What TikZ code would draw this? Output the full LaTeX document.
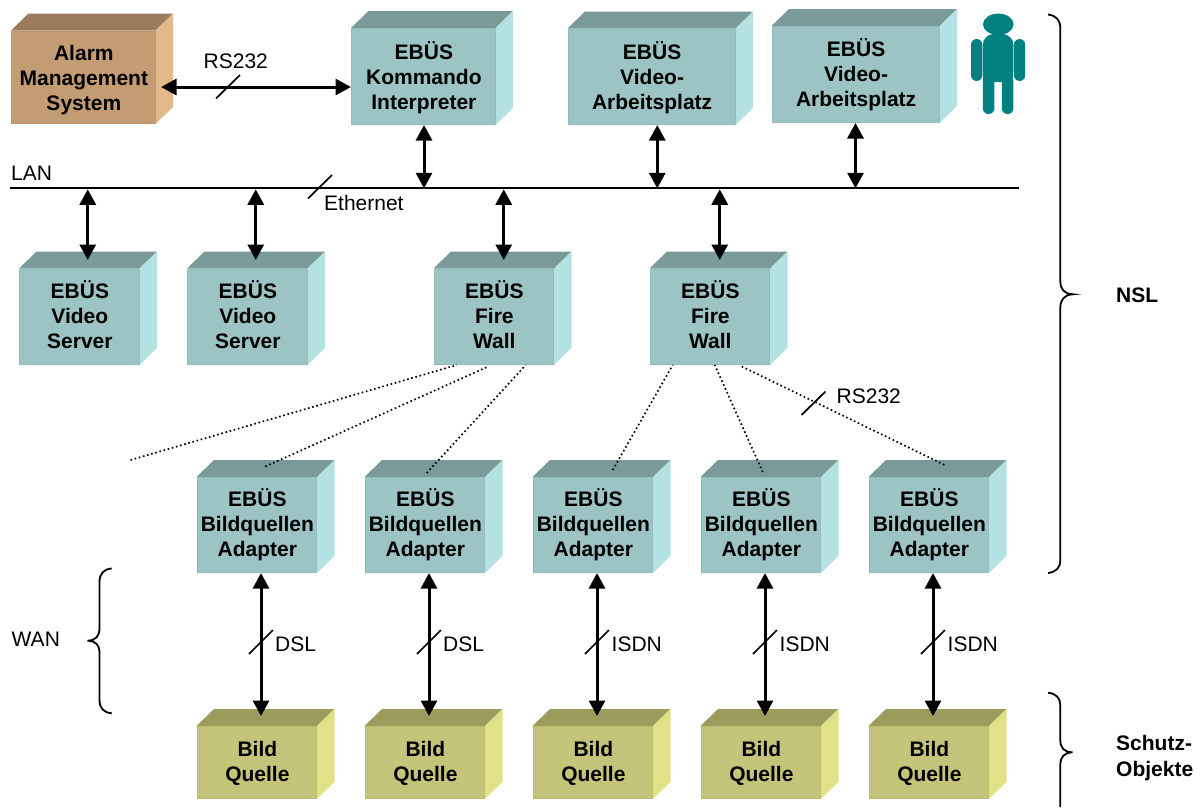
\documentclass[tikz,border=0pt]{standalone}
\usepackage{fontspec}
\setmainfont{Liberation Sans}
\usetikzlibrary{arrows.meta}
\definecolor{tealF}{HTML}{9CC4C4}
\definecolor{tealT}{HTML}{7A9999}
\definecolor{tealS}{HTML}{B4E1E1}
\definecolor{tealE}{HTML}{92BBBB}
\definecolor{brownF}{HTML}{C49C74}
\definecolor{brownT}{HTML}{9C7C5C}
\definecolor{brownS}{HTML}{E1B98A}
\definecolor{brownE}{HTML}{BB9470}
\definecolor{oliveF}{HTML}{C4C47A}
\definecolor{oliveT}{HTML}{9C9C5C}
\definecolor{oliveS}{HTML}{E1E18A}
\definecolor{oliveE}{HTML}{BBBB72}
\definecolor{person}{HTML}{008080}
\tikzset{
  boxtext/.style={font=\fontsize{21}{25}\bfseries\selectfont,inner sep=0pt,text=black},
  biarrow/.style={line width=3pt,{Triangle[length=15.5pt,width=16pt]}-{Triangle[length=15.5pt,width=16pt]}},
  slashmark/.style={line width=1.7pt},
  dotlink/.style={line width=1.7pt,dash pattern=on 1.6pt off 2.7pt},
  bracket/.style={line width=1.8pt},
  plainlabel/.style={font=\fontsize{21}{25}\selectfont,anchor=base west,inner sep=0pt},
  boldlabel/.style={font=\fontsize{21}{25}\bfseries\selectfont,anchor=base west,inner sep=0pt},
}
% #1 name, #2 colour prefix, #3 x0, #4 x1, #5 y0, #6 y1, #7 text shift, #8 text
\newcommand{\cubebox}[8]{%
  \fill[#2T] (#3,#5) -- ({#3+17.5},{#5-17}) -- ({#4+17.5},{#5-17}) -- (#4,#5) -- cycle;
  \fill[#2S] (#4,#5) -- ({#4+17.5},{#5-17}) -- ({#4+17.5},{#6-17}) -- (#4,#6) -- cycle;
  \node[boxtext,fill=#2F,draw=#2E,line width=1pt,minimum width={(#4-#3-1)*1pt},minimum height={(#6-#5-1)*1pt}] (#1) at ({(#3+#4)/2},{(#5+#6)/2})
    {\hspace*{1.2pt}\raisebox{#7pt}[\height][\depth]{\begin{tabular}{@{}c@{}}#8\end{tabular}}};
}
\begin{document}
\begin{tikzpicture}[x=1pt,y=-1pt]
\useasboundingbox (0,0) rectangle (1200,807);
% boxes
\cubebox{alarm}{brown}{11}{155.5}{30.5}{124}{-3}{Alarm\\Management\\System}
\cubebox{kom}{teal}{351}{495.5}{28}{125}{-2.5}{EBÜS\\Kommando\\Interpreter}
\cubebox{va}{teal}{567.5}{735.5}{28.5}{125}{-2.25}{EBÜS\\Video-\\Arbeitsplatz}
\cubebox{vb}{teal}{771.5}{939.5}{26}{123}{-2}{EBÜS\\Video-\\Arbeitsplatz}
\cubebox{sa}{teal}{19}{139.5}{268.5}{365}{-1.5}{EBÜS\\Video\\Server}
\cubebox{sb}{teal}{187}{307.5}{268.5}{365}{-1.5}{EBÜS\\Video\\Server}
\cubebox{fa}{teal}{433.5}{554}{268.5}{365}{-1.5}{EBÜS\\Fire\\Wall}
\cubebox{fb}{teal}{649.5}{770}{268.5}{365}{-1.5}{EBÜS\\Fire\\Wall}
\cubebox{ada}{teal}{196.5}{317}{477}{573}{-1.7}{EBÜS\\Bildquellen\\Adapter}
\cubebox{adb}{teal}{364.5}{485}{477}{573}{-1.7}{EBÜS\\Bildquellen\\Adapter}
\cubebox{adc}{teal}{532.5}{653}{477}{573}{-1.7}{EBÜS\\Bildquellen\\Adapter}
\cubebox{add}{teal}{700.5}{821}{477}{573}{-1.7}{EBÜS\\Bildquellen\\Adapter}
\cubebox{ade}{teal}{868.5}{989}{477}{573}{-1.7}{EBÜS\\Bildquellen\\Adapter}
\cubebox{bqa}{olive}{196.5}{317}{726}{799}{-1.3}{Bild\\Quelle}
\cubebox{bqb}{olive}{364.5}{485}{726}{799}{-1.3}{Bild\\Quelle}
\cubebox{bqc}{olive}{532.5}{653}{726}{799}{-1.3}{Bild\\Quelle}
\cubebox{bqd}{olive}{700.5}{821}{726}{799}{-1.3}{Bild\\Quelle}
\cubebox{bqe}{olive}{868.5}{989}{726}{799}{-1.3}{Bild\\Quelle}
% LAN
\coordinate (lanL) at (10,188.3);
\coordinate (lanR) at (1018.5,188.3);
\draw[line width=1.8pt] (lanL) -- (lanR);
% arrows
\draw[biarrow] ([xshift=5.5pt,yshift=-9.75pt]alarm.east) -- ([yshift=-10.5pt]kom.west);
\draw[biarrow] ([xshift=.75pt]kom.south) -- ([xshift=.75pt]kom.south |- lanL);
\draw[biarrow] ([xshift=5.75pt]va.south) -- ([xshift=5.75pt]va.south |- lanL);
\draw[biarrow] (vb.south) -- (vb.south |- lanL);
\foreach \n/\s in {sa/8.5,sb/8.5,fa/10,fb/10}
  \draw[biarrow] ([xshift=\s pt]\n.north |- lanL) ++(0,1) -- ([xshift=\s pt,yshift=8.5pt]\n.north);
\foreach \a/\b in {ada/bqa,adb/bqb,adc/bqc,add/bqd,ade/bqe}
  \draw[biarrow] ([xshift=4.25pt]\a.south) -- ([xshift=4.25pt,yshift=10pt]\b.north);
% dotted links
\coordinate (free) at (130.5,460);
\draw[dotlink] (free) -- ([xshift=-37pt]fa.south);
\draw[dotlink] ([xshift=8.5pt,yshift=10.5pt]ada.north) -- ([xshift=-5.5pt,yshift=-1.5pt]fa.south);
\draw[dotlink] ([xshift=2pt,yshift=4pt]adb.north) -- ([xshift=32pt]fa.south);
\draw[dotlink] ([xshift=20pt,yshift=7pt]adc.north) -- ([xshift=-37pt]fb.south);
\draw[dotlink] ([xshift=2pt,yshift=5pt]add.north) -- ([xshift=5pt]fb.south);
\draw[dotlink] ([xshift=32pt,yshift=-1.5pt]fb.south) -- ([xshift=18pt,yshift=11pt]ade.north);
% slashes
\draw[slashmark] (216,98.5) -- ++(24,-23.5);
\draw[slashmark] (308,198.5) -- ++(24,-23.5);
\draw[slashmark] (801.5,415) -- ++(24,-23.5);
\foreach \x in {249,417,585,753,921}
  \draw[slashmark] (\x,654) -- ++(24,-24);
% person
\fill[person] (998.3,24.3) ellipse [x radius=15.3,y radius=10.7];
\fill[person,rounded corners=11pt] (982.8,82) -- (982.8,34) -- (1013.4,34) -- (1013.4,82) -- cycle;
\fill[person] (982.8,60) rectangle (1013.4,82);
\fill[person,rounded corners=5.7pt] (982.8,75) rectangle (994.4,114);
\fill[person,rounded corners=5.7pt] (1001.8,75) rectangle (1013.4,114);
\fill[person,rounded corners=5.7pt] (971,39) rectangle (982.3,81);
\fill[person,rounded corners=5.7pt] (1013.9,39) rectangle (1025.2,81);
% braces
\draw[bracket] (1048,14.5) .. controls (1056,15.5) and (1060.3,20) .. (1060.3,28)
  -- (1060.3,281) .. controls (1060.3,289) and (1064,294) .. (1073,294.3)
  .. controls (1064,294.6) and (1060.3,300) .. (1060.3,308)
  -- (1060.3,560) .. controls (1060.3,568) and (1056,572) .. (1048,573);
\draw[bracket] (1048,692.7) .. controls (1056,693.5) and (1060.3,698) .. (1060.3,705)
  -- (1060.3,740) .. controls (1060.3,748) and (1064,752) .. (1072.5,752.3)
  .. controls (1064,752.6) and (1060.3,757) .. (1060.3,765) -- (1060.3,807);
\draw[bracket] (111.7,568.5) .. controls (103.5,569) and (99.5,574) .. (99.5,582)
  -- (99.5,628) .. controls (99.5,636) and (96,640.4) .. (87.5,640.7)
  .. controls (96,641) and (99.5,645) .. (99.5,653)
  -- (99.5,700) .. controls (99.5,708) and (103.5,712.5) .. (111.7,713.3);
% labels
\node[plainlabel] (lLAN) at (11,180) {LAN};
\node[plainlabel] (lRSa) at (203.5,68.5) {RS232};
\node[plainlabel] (lEth) at (324,210.7) {Ethernet};
\node[plainlabel] (lRSb) at (836.5,403) {RS232};
\node[plainlabel] (lWAN) at (11.5,646) {WAN};
\node[plainlabel] (lDa) at (275,651.5) {DSL};
\node[plainlabel] (lDb) at (443,651.5) {DSL};
\node[plainlabel] (lIa) at (611.5,651.5) {ISDN};
\node[plainlabel] (lIb) at (779.5,651.5) {ISDN};
\node[plainlabel] (lIc) at (947.5,651.5) {ISDN};
\node[boldlabel] (lNSL) at (1116,302.7) {NSL};
\node[boldlabel] (lSa) at (1116,750) {Schutz-};
\node[boldlabel] (lSb) at (1116,776) {Objekte};
\end{tikzpicture}
\end{document}
